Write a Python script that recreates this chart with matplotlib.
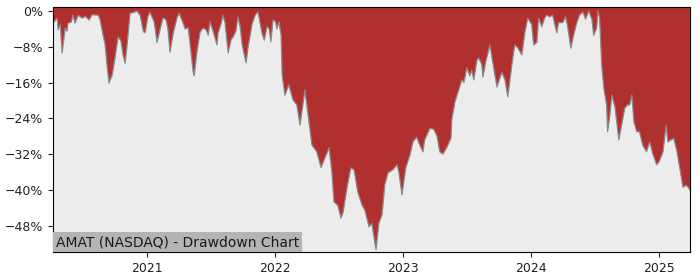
"""Drawdown chart for AMAT (NASDAQ)."""
import numpy as np
import pandas as pd
import matplotlib
matplotlib.use("Agg")
import matplotlib.pyplot as plt
import matplotlib.dates as mdates
from matplotlib.ticker import PercentFormatter

TITLE = "AMAT (NASDAQ) - Drawdown Chart"

# drawdown, in percent
dates_2020 = ["2020-04-07", "2020-04-10", "2020-04-19", "2020-04-22", "2020-04-28",
              "2020-05-03", "2020-05-12", "2020-05-17", "2020-05-20", "2020-05-29",
              "2020-06-03", "2020-06-09", "2020-06-18", "2020-06-29", "2020-07-08",
              "2020-07-19", "2020-07-28", "2020-08-05", "2020-08-14", "2020-08-19",
              "2020-08-28", "2020-09-03", "2020-09-08", "2020-09-14", "2020-09-23",
              "2020-10-01", "2020-10-10", "2020-10-18", "2020-10-24", "2020-10-30",
              "2020-11-04", "2020-11-13", "2020-11-24", "2020-12-03", "2020-12-12",
              "2020-12-21", "2020-12-26"]
dd_2020 = [-2.0, -2.4, -1.6, -4.2, -3.1,
           -9.4, -3.8, -4.5, -2.7, -2.5,
           -0.9, -2.7, -0.9, -1.6, -1.2,
           -2.0, -0.8, -0.9, -0.9, -1.8,
           -5.4, -7.6, -12.0, -16.1, -14.3,
           -10.5, -5.8, -6.7, -9.8, -11.7,
           -8.0, -0.5, -0.3, 0.0, -1.0,
           -4.6, -4.9]

dates_2021 = ["2021-01-03", "2021-01-09", "2021-01-21", "2021-01-29", "2021-02-07",
              "2021-02-15", "2021-02-24", "2021-03-01", "2021-03-07", "2021-03-16",
              "2021-03-27", "2021-04-02", "2021-04-10", "2021-04-19", "2021-04-28",
              "2021-05-03", "2021-05-12", "2021-05-15", "2021-05-23", "2021-06-01",
              "2021-06-09", "2021-06-18", "2021-06-24", "2021-06-29", "2021-07-08",
              "2021-07-19", "2021-07-22", "2021-07-31", "2021-08-05", "2021-08-11",
              "2021-08-20", "2021-08-28", "2021-09-03", "2021-09-11", "2021-09-17",
              "2021-09-23", "2021-09-29", "2021-10-10", "2021-10-16", "2021-10-27",
              "2021-11-05", "2021-11-13", "2021-11-25", "2021-12-01", "2021-12-09",
              "2021-12-15", "2021-12-20", "2021-12-26"]
dd_2021 = [-1.2, -0.3, -2.5, -7.0, -4.0,
           -1.5, -2.0, -4.0, -9.2, -5.0,
           -1.5, -0.5, -2.0, -4.0, -3.8,
           -7.2, -13.6, -14.5, -9.0, -4.7,
           -3.8, -4.2, -5.4, -2.4, -4.5,
           -7.6, -5.0, -2.8, -0.9, -2.6,
           -9.4, -6.5, -5.8, -4.5, -1.3,
           -3.5, -7.6, -11.6, -8.0, -3.0,
           -0.9, -0.2, -5.1, -6.5, -3.5,
           -4.0, -6.9, -2.0]

dates_2022 = ["2022-01-02", "2022-01-06", "2022-01-12", "2022-01-18", "2022-01-21",
              "2022-01-29", "2022-02-09", "2022-02-21", "2022-03-04", "2022-03-13",
              "2022-03-27", "2022-04-05", "2022-04-16", "2022-04-30", "2022-05-12",
              "2022-05-23", "2022-06-04", "2022-06-12", "2022-06-18", "2022-06-29",
              "2022-07-08", "2022-07-14", "2022-07-25", "2022-08-05", "2022-08-14",
              "2022-08-25", "2022-09-06", "2022-09-14", "2022-09-26", "2022-10-04",
              "2022-10-16", "2022-10-24", "2022-11-02", "2022-11-10", "2022-11-19",
              "2022-12-03", "2022-12-15", "2022-12-20", "2022-12-29"]
dd_2022 = [-2.4, -4.0, -2.4, -5.4, -14.3,
           -18.8, -16.5, -19.9, -21.0, -25.5,
           -17.7, -23.2, -30.0, -31.5, -35.0,
           -32.9, -30.6, -36.0, -42.7, -43.5,
           -46.3, -45.0, -39.6, -35.1, -35.5,
           -40.5, -43.4, -44.5, -48.3, -47.5,
           -53.4, -47.5, -45.6, -38.9, -36.2,
           -35.5, -34.4, -36.0, -41.1]

dates_2023 = ["2023-01-09", "2023-01-21", "2023-01-29", "2023-02-09", "2023-02-18",
              "2023-02-27", "2023-03-04", "2023-03-19", "2023-03-30", "2023-04-08",
              "2023-04-16", "2023-04-25", "2023-05-06", "2023-05-18", "2023-05-20",
              "2023-05-29", "2023-06-07", "2023-06-18", "2023-06-24", "2023-07-02",
              "2023-07-11", "2023-07-16", "2023-07-22", "2023-07-31", "2023-08-05",
              "2023-08-14", "2023-08-17", "2023-08-25", "2023-09-06", "2023-09-14",
              "2023-09-26", "2023-10-10", "2023-10-19", "2023-10-27", "2023-11-08",
              "2023-11-16", "2023-11-25", "2023-12-06", "2023-12-15", "2023-12-23"]
dd_2023 = [-35.0, -32.2, -29.3, -28.2, -30.0,
           -31.5, -28.8, -26.2, -26.5, -28.0,
           -31.5, -32.0, -30.5, -28.4, -24.4,
           -20.4, -18.1, -15.4, -16.0, -12.7,
           -14.5, -13.2, -15.4, -11.0, -10.5,
           -12.0, -14.8, -11.4, -7.6, -11.4,
           -17.0, -13.7, -15.4, -19.2, -11.8,
           -7.6, -8.3, -9.8, -4.7, -1.6]

dates_2024 = ["2024-01-03", "2024-01-09", "2024-01-18", "2024-01-23", "2024-02-01",
              "2024-02-09", "2024-02-15", "2024-02-24", "2024-03-03", "2024-03-15",
              "2024-03-20", "2024-04-01", "2024-04-09", "2024-04-15", "2024-04-24",
              "2024-04-30", "2024-05-11", "2024-05-19", "2024-05-28", "2024-06-05",
              "2024-06-14", "2024-06-23", "2024-06-28", "2024-07-07", "2024-07-10",
              "2024-07-15", "2024-07-21", "2024-07-27", "2024-08-04", "2024-08-07",
              "2024-08-13", "2024-08-19", "2024-08-28", "2024-09-02", "2024-09-08",
              "2024-09-16", "2024-09-25", "2024-10-03", "2024-10-09", "2024-10-15",
              "2024-10-21", "2024-10-29", "2024-11-06", "2024-11-15", "2024-11-26",
              "2024-12-05", "2024-12-14", "2024-12-25"]
dd_2024 = [-3.0, -7.6, -7.0, -1.6, -3.5,
           -1.6, -0.9, -1.3, -0.9, -4.9,
           -2.6, -2.6, -1.3, -3.6, -8.3,
           -6.0, -2.6, -0.9, -0.2, -1.8,
           0.0, -1.8, -5.4, -3.8, 0.0,
           -1.5, -12.0, -17.2, -21.0, -27.0,
           -23.5, -18.8, -21.5, -24.8, -28.8,
           -25.5, -21.7, -21.0, -21.0, -18.8,
           -24.8, -27.0, -27.0, -30.0, -31.5,
           -29.3, -32.0, -34.4]

dates_2025 = ["2025-01-01", "2025-01-12", "2025-01-21", "2025-01-26", "2025-02-04",
              "2025-02-12", "2025-02-21", "2025-03-04", "2025-03-10", "2025-03-19",
              "2025-03-24", "2025-03-30"]
dd_2025 = [-33.7, -31.5, -25.5, -29.3, -28.8,
           -28.5, -31.5, -36.7, -39.4, -39.0,
           -39.4, -40.0]

y_ticks = [0, -8, -16, -24, -32, -40, -48]


def build_series():
    """Junta las listas por año en una sola serie."""
    dates = dates_2020 + dates_2021 + dates_2022 + dates_2023 + dates_2024 + dates_2025
    values = dd_2020 + dd_2021 + dd_2022 + dd_2023 + dd_2024 + dd_2025
    return pd.to_datetime(dates), np.array(values) / 100.0


def plot_drawdown(t, dd):
    fig = plt.figure(figsize=(7, 2.8), dpi=100)
    ax = fig.add_axes([0.0757, 0.1, 0.91, 0.875])
    ax.set_facecolor("#ececec")

    y_top = 0.009
    ax.plot(t, dd, color="#8a8a8a", linewidth=0.9)
    # el relleno llega hasta el borde superior del eje
    ax.fill_between(t, dd, 1.0, color="#b03030", linewidth=0)

    ax.set_xlim(t[0], t[-1])
    ax.set_ylim(-0.539, y_top)
    ax.set_yticks(np.array(y_ticks) / 100.0)
    ax.yaxis.set_major_formatter(PercentFormatter(1.0, decimals=0))
    ax.xaxis.set_major_locator(mdates.YearLocator())
    ax.xaxis.set_major_formatter(mdates.DateFormatter("%Y"))
    ax.tick_params(labelsize=9, colors="#222222")

    ax.text(0.0045, 0.012, TITLE, transform=ax.transAxes, fontsize=10,
            ha="left", va="bottom", color="#1a1a1a",
            bbox=dict(boxstyle="square,pad=0.2", facecolor="#b4b4b4",
                      edgecolor="none"))

    fig.savefig("out.png", dpi=100)


if __name__ == "__main__":
    t, dd = build_series()
    plot_drawdown(t, dd)
